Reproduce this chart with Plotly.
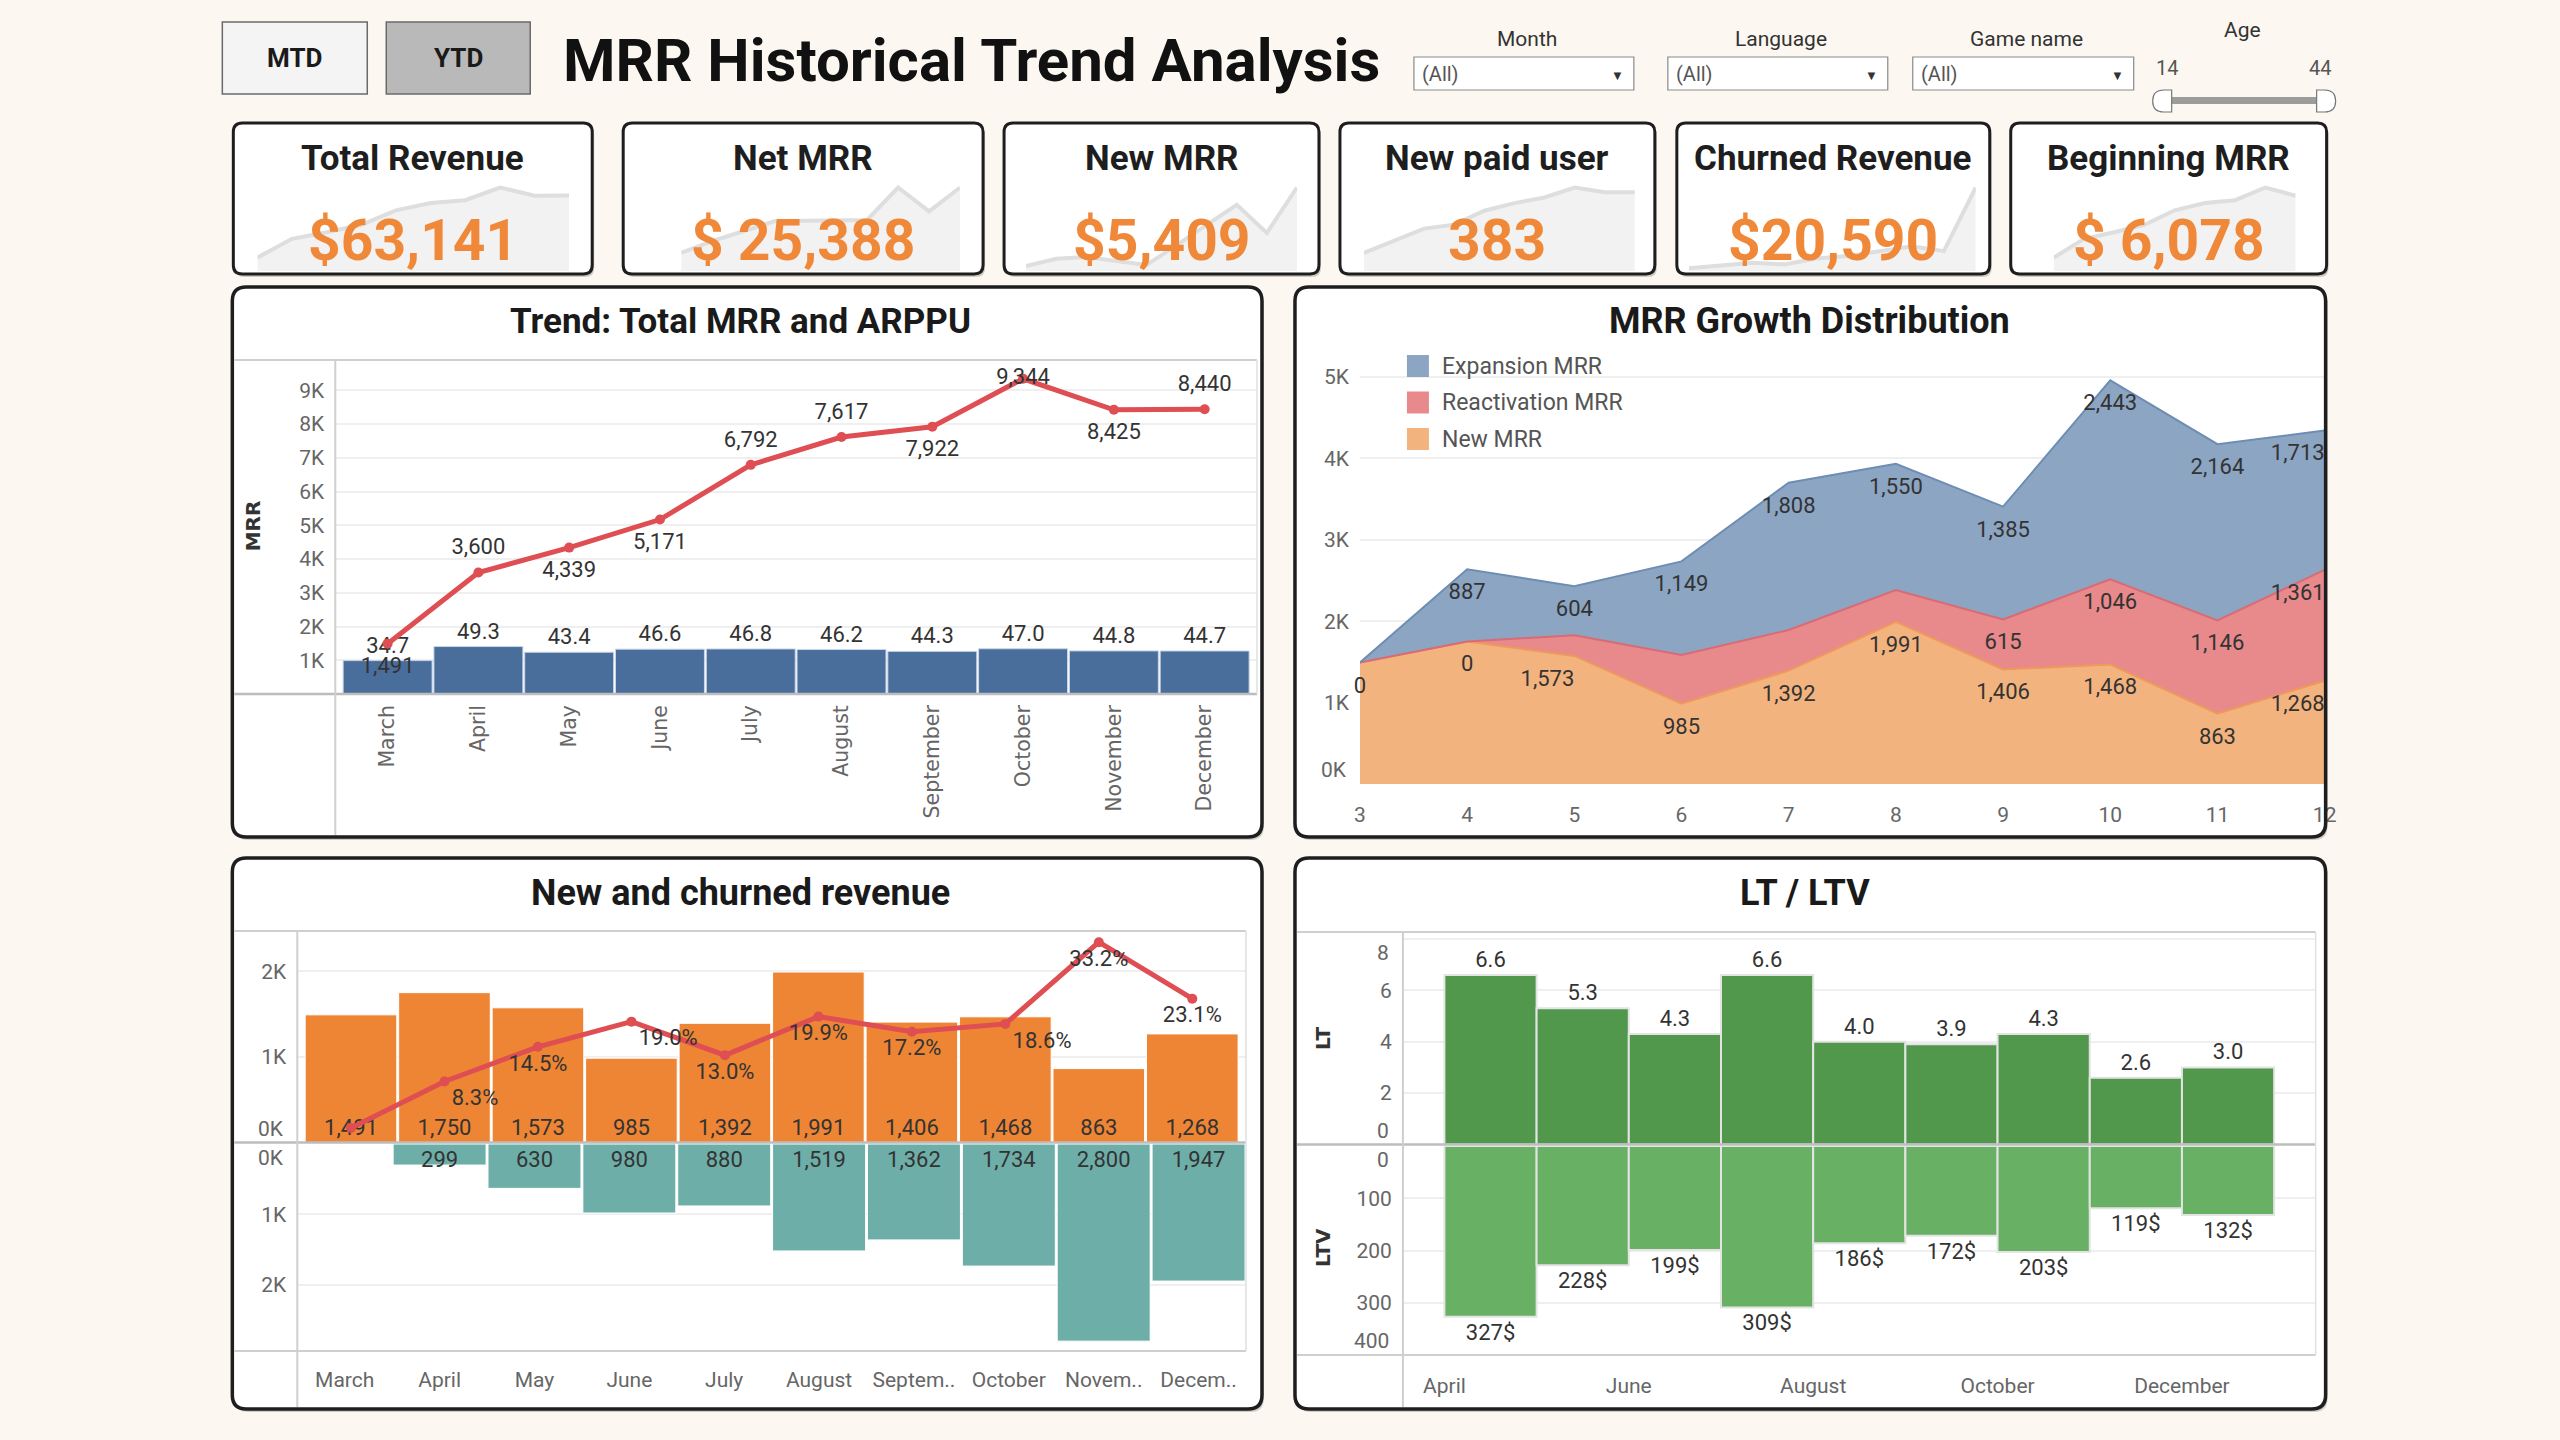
import plotly.graph_objects as go

W, H = 2560, 1440
BG = "#FCF8F1"
SANS = "Roboto, 'Open Sans', sans-serif"
WIDE = "'DejaVu Sans', Verdana, sans-serif"

# ---------------- data ----------------
months = ["March", "April", "May", "June", "July", "August",
          "September", "October", "November", "December"]
months_short = ["March", "April", "May", "June", "July", "August",
                "Septem..", "October", "Novem..", "Decem.."]
month_num = [3, 4, 5, 6, 7, 8, 9, 10, 11, 12]

total_mrr = [1491, 3600, 4339, 5171, 6792, 7617, 7922, 9344, 8425, 8440]
arppu = [34.7, 49.3, 43.4, 46.6, 46.8, 46.2, 44.3, 47.0, 44.8, 44.7]

new_mrr = [1491, 1750, 1573, 985, 1392, 1991, 1406, 1468, 863, 1268]
reactivation_mrr = [0, 0, 253, 600, 500, 392, 615, 1046, 1146, 1361]
expansion_mrr = [0, 887, 604, 1149, 1808, 1550, 1385, 2443, 2164, 1713]
new_label_on = [False, False, True, True, True, True, True, True, True, True]
react_label_on = [True, True, False, False, False, False, True, True, True, True]
exp_label_on = [False, True, True, True, True, True, True, True, True, True]

churned_revenue = [0, 299, 630, 980, 880, 1519, 1362, 1734, 2800, 1947]
churn_rate = [0.0, 8.3, 14.5, 19.0, 13.0, 19.9, 17.2, 18.6, 33.2, 23.1]

lt_months = ["April", "May", "June", "July", "August", "September",
             "October", "November", "December"]
lt_month_num = [4, 5, 6, 7, 8, 9, 10, 11, 12]
lt_values = [6.6, 5.3, 4.3, 6.6, 4.0, 3.9, 4.3, 2.6, 3.0]
ltv_values = [327, 228, 199, 309, 186, 172, 203, 119, 132]
lt_tick_months = [4, 6, 8, 10, 12]
lt_tick_labels = ["April", "June", "August", "October", "December"]

kpi_titles = ["Total Revenue", "Net MRR", "New MRR", "New paid user",
              "Churned Revenue", "Beginning MRR"]
kpi_values = ["$63,141", "$ 25,388", "$5,409", "383", "$20,590", "$ 6,078"]

spark_total_revenue = [1491, 3600, 4339, 5171, 6792, 7617, 7922, 9344, 8425, 8440]
spark_net_mrr = [55, 90, 120, 150, 152, 152, 154, 252, 180, 252]
spark_new_mrr = [15, 37, 42, 30, 18, 78, 140, 200, 115, 252]
spark_paid_users = [55, 92, 128, 140, 182, 205, 222, 252, 238, 238]
spark_churned = [8, 15, 25, 20, 38, 45, 60, 75, 60, 252]
spark_beginning_mrr = [1491, 3600, 4339, 5171, 6792, 7617, 7922, 9344, 8425]
spark_series = [spark_total_revenue, spark_net_mrr, spark_new_mrr,
                spark_paid_users, spark_churned, spark_beginning_mrr]

filter_labels = ["Month", "Language", "Game name"]
filter_values = ["(All)", "(All)", "(All)"]
age_range = [14, 44]

mrr_ticks = [1000, 2000, 3000, 4000, 5000, 6000, 7000, 8000, 9000]
growth_ticks = [0, 1000, 2000, 3000, 4000, 5000]
nc_ticks = [0, 1000, 2000]
lt_ticks = [0, 2, 4, 6, 8]
ltv_ticks = [0, 100, 200, 300, 400]

# ---------------- styles ----------------
RED = "#DE4E53"
BLUE_BAR = "#4A6E9C"
ORANGE = "#EE8534"
TEAL = "#6EAEA8"
DKGREEN = "#51984D"
LTGREEN = "#68B064"
KPI_ORANGE = "#F0883A"
GRID = "#EFEFEF"
AXLINE = "#CFCFCF"
TICK = dict(family=SANS, size=21, color="#666666")
LABEL = dict(family=SANS, size=22, color="#333333")
MRR_LABEL_GAP = 700      # label offset from the MRR line, in MRR units
AREA_LABEL_DROP = 300    # label offset below the stacked area edges, in MRR units

# the page is drawn slightly narrower than 2560 px; layout positions below are
# given in target-picture pixels and mapped through this correction
X_SHIFT, X_SCALE = 5.6, 0.9933


def fx(x):
    return (x - X_SHIFT) / X_SCALE / W


def fy(y):
    return 1 - y / H


def P(x, y):
    return f"{fx(x):.6f},{fy(y):.6f}"


def rounded(x0, y0, x1, y1, r):
    return (f"M{P(x0 + r, y0)} L{P(x1 - r, y0)} Q{P(x1, y0)} {P(x1, y0 + r)} "
            f"L{P(x1, y1 - r)} Q{P(x1, y1)} {P(x1 - r, y1)} L{P(x0 + r, y1)} "
            f"Q{P(x0, y1)} {P(x0, y1 - r)} L{P(x0, y0 + r)} Q{P(x0, y0)} {P(x0 + r, y0)} Z")


shapes = []
annotations = []


def rect(x0, y0, x1, y1, fill, line_color=None, lw=0, layer="below"):
    shapes.append(dict(type="rect", xref="paper", yref="paper",
                       x0=fx(x0), x1=fx(x1), y0=fy(y1), y1=fy(y0),
                       fillcolor=fill, layer=layer,
                       line=dict(color=line_color or fill, width=lw)))


def line(x0, y0, x1, y1, color=AXLINE, width=2, layer="above"):
    shapes.append(dict(type="line", xref="paper", yref="paper",
                       x0=fx(x0), x1=fx(x1), y0=fy(y0), y1=fy(y1),
                       line=dict(color=color, width=width), layer=layer))


def box(x0, y0, x1, y1, r, lw=3.5):
    shapes.append(dict(type="path", path=rounded(x0 + 2, y0 + 3, x1 + 2, y1 + 3, r),
                       xref="paper", yref="paper", fillcolor="rgba(0,0,0,0.18)",
                       line=dict(width=0), layer="below"))
    shapes.append(dict(type="path", path=rounded(x0, y0, x1, y1, r),
                       xref="paper", yref="paper", fillcolor="white",
                       line=dict(width=0), layer="below"))
    shapes.append(dict(type="path", path=rounded(x0, y0, x1, y1, r),
                       xref="paper", yref="paper", fillcolor="rgba(0,0,0,0)",
                       line=dict(color="#1E1E1E", width=lw), layer="above"))


def text(x, y, s, size=22, color="#333333", weight=400, family=SANS,
         xanchor="center", yanchor="middle", angle=0):
    annotations.append(dict(xref="paper", yref="paper", x=fx(x), y=fy(y), text=s,
                            showarrow=False, xanchor=xanchor, yanchor=yanchor,
                            textangle=angle,
                            font=dict(family=family, size=size, color=color, weight=weight)))


def edge_label(s, yref, yval, x_px, yanchor):
    annotations.append(dict(xref="paper", yref=yref, x=fx(x_px), y=yval, text=s,
                            showarrow=False, xanchor="right", yanchor=yanchor,
                            font=TICK))


# ---------------- header ----------------
rect(222, 22, 367, 94, "#F4F4F4", "#6A6A6A", 1.5)
rect(386, 22, 530, 94, "#B9B9B9", "#6A6A6A", 1.5)
text(294.5, 58, "MTD", 26, "#1A1A1A", 700)
text(458, 58, "YTD", 26, "#1A1A1A", 700)
text(561, 61, "MRR Historical Trend Analysis", 60, "#111111", 700, xanchor="left")

filter_boxes = [(1414, 1634), (1668, 1888), (1913, 2134)]
for (bx0, bx1), lab, val in zip(filter_boxes, filter_labels, filter_values):
    text((bx0 + bx1) / 2 + 3, 39, lab, 21, "#333333")
    rect(bx0, 57, bx1, 90, "white", "#8A8A8A", 1.2)
    text(bx0 + 6, 74, val, 20, "#555555", xanchor="left")
    text(bx1 - 16, 75, "▼", 13, "#333333")

text(2243, 30, "Age", 21, "#333333")
text(2167, 68, str(age_range[0]), 20, "#555555")
text(2320, 68, str(age_range[1]), 20, "#555555")
rect(2172, 97, 2318, 104, "#9C9C9C")
shapes.append(dict(type="path", xref="paper", yref="paper", layer="above",
                   path=f"M{P(2172, 90)} L{P(2164, 90)} Q{P(2153, 90)} {P(2153, 101)} "
                        f"Q{P(2153, 112)} {P(2164, 112)} L{P(2172, 112)} Z",
                   fillcolor="white", line=dict(color="#777777", width=1.2)))
shapes.append(dict(type="path", xref="paper", yref="paper", layer="above",
                   path=f"M{P(2317, 90)} L{P(2325, 90)} Q{P(2336, 90)} {P(2336, 101)} "
                        f"Q{P(2336, 112)} {P(2325, 112)} L{P(2317, 112)} Z",
                   fillcolor="white", line=dict(color="#777777", width=1.2)))

# ---------------- KPI cards ----------------
card_boxes = [(233, 123, 592, 274), (623, 123, 983, 274), (1004, 123, 1319, 274),
              (1340, 123, 1655, 274), (1677, 123, 1990, 274), (2011, 123, 2327, 274)]
spark_x = [(257, 569), (681, 960), (1026, 1297), (1364, 1635), (1689, 1976), (2054, 2296)]
for (cx0, cy0, cx1, cy1), t, v in zip(card_boxes, kpi_titles, kpi_values):
    box(cx0, cy0, cx1, cy1, 9, 3)
    text((cx0 + cx1) / 2, 159, t, 35, "#1E1E1E", 700)
    text((cx0 + cx1) / 2, 241, v, 57, KPI_ORANGE, 700)

# ---------------- panels ----------------
panels = [(232, 287, 1262, 837), (1295, 287, 2326, 837),
          (232, 858, 1262, 1409), (1295, 858, 2326, 1409)]
for p in panels:
    box(*p, 14, 3.5)
text(740, 321, "Trend: Total MRR and ARPPU", 35, "#1A1A1A", 700)
text(1810, 321, "MRR Growth Distribution", 36, "#1A1A1A", 700)
text(740, 893, "New and churned revenue", 36, "#1A1A1A", 700)
text(1805, 893, "LT / LTV", 36, "#1A1A1A", 700)

# trend panel lines
line(234, 360, 1257, 360)
line(234, 694, 1257, 694, "#BDBDBD", 2.5)
line(335, 360, 335, 835)
line(1257, 360, 1257, 694, "#E0E0E0", 1.5)
text(253, 526, "MRR", 20, "#333333", 700, family=WIDE, angle=-90)

# new / churned lines
line(234, 931, 1246, 931)
line(234, 1142.5, 1246, 1142.5, "#BDBDBD", 2.5)
line(234, 1351, 1246, 1351)
line(297, 931, 297, 1407)
line(1246, 931, 1246, 1351, "#E0E0E0", 1.5)

# LT / LTV lines
line(1297, 932, 2316, 932)
line(1297, 1144.5, 2316, 1144.5, "#BDBDBD", 2.5)
line(1297, 1355, 2316, 1355)
line(1403, 932, 1403, 1407)
line(2316, 932, 2316, 1355, "#E0E0E0", 1.5)
text(1323, 1038, "LT", 20, "#333333", 700, family=WIDE, angle=-90)
text(1323, 1247, "LTV", 20, "#333333", 700, family=WIDE, angle=-90)

# growth legend
legend_items = [("Expansion MRR", "#8CA5C3"), ("Reactivation MRR", "#E8898C"),
                ("New MRR", "#F3B37F")]
for i, (name, col) in enumerate(legend_items):
    yc = 366 + i * 36.5
    rect(1407, yc - 11, 1429, yc + 11, col, layer="above")
    text(1440, yc, name, 23, "#555555", xanchor="left")

# ---------------- traces ----------------
fig = go.Figure()

trend_label_side = [-1, 1, -1, -1, 1, 1, -1, 0, -1, 1]
fig.add_trace(go.Bar(x=months, y=arppu, xaxis="x", yaxis="y",
                     marker=dict(color=BLUE_BAR, line=dict(color="#C9D6E6", width=1)),
                     text=[f"{v:.1f}" for v in arppu], textposition="outside",
                     textfont=LABEL, cliponaxis=False, hoverinfo="skip"))
fig.add_trace(go.Scatter(x=months, y=total_mrr, xaxis="x", yaxis="y2",
                         mode="lines+markers",
                         line=dict(color=RED, width=5), marker=dict(size=10, color=RED),
                         hoverinfo="skip"))
fig.add_trace(go.Scatter(x=months,
                         y=[v + s * MRR_LABEL_GAP for v, s in zip(total_mrr, trend_label_side)],
                         xaxis="x", yaxis="y2", mode="text",
                         text=[f"{v:,}" for v in total_mrr], textposition="middle center",
                         textfont=LABEL, cliponaxis=False, hoverinfo="skip"))

# growth distribution (stacked areas)
fig.add_trace(go.Scatter(x=month_num, y=new_mrr, xaxis="x2", yaxis="y3",
                         stackgroup="g", mode="lines", name="New MRR",
                         line=dict(color="#EE9A5B", width=2), fillcolor="#F3B37F"))
fig.add_trace(go.Scatter(x=month_num, y=reactivation_mrr, xaxis="x2", yaxis="y3",
                         stackgroup="g", mode="lines", name="Reactivation MRR",
                         line=dict(color="#D96B74", width=2), fillcolor="#E8898C"))
fig.add_trace(go.Scatter(x=month_num, y=expansion_mrr, xaxis="x2", yaxis="y3",
                         stackgroup="g", mode="lines", name="Expansion MRR",
                         line=dict(color="#6E8DB3", width=2), fillcolor="#8CA5C3"))
cum_new = list(new_mrr)
cum_react = [a + b for a, b in zip(cum_new, reactivation_mrr)]
cum_exp = [a + b for a, b in zip(cum_react, expansion_mrr)]
edge_pos = ["middle center"] * 9 + ["middle left"]
new_pos = ["middle center", "middle center", "middle left"] + ["middle center"] * 6 + ["middle left"]
for yv, vals, on, pos in [(cum_new, new_mrr, new_label_on, new_pos),
                          (cum_react, reactivation_mrr, react_label_on, edge_pos),
                          (cum_exp, expansion_mrr, exp_label_on, edge_pos)]:
    fig.add_trace(go.Scatter(x=month_num, y=[c - AREA_LABEL_DROP for c in yv],
                             xaxis="x2", yaxis="y3", mode="text",
                             text=[f"{v:,}" if o else "" for v, o in zip(vals, on)],
                             textposition=pos, textfont=LABEL,
                             cliponaxis=False, hoverinfo="skip"))

# new and churned revenue
pct_label_pos = ["bottom center", "bottom right", "bottom center", "bottom right",
                 "bottom center", "bottom center", "bottom center", "bottom right",
                 "bottom center", "bottom center"]
fig.add_trace(go.Bar(x=months, y=new_mrr, xaxis="x3", yaxis="y4",
                     marker=dict(color=ORANGE, line=dict(color="white", width=1)),
                     text=[f"{v:,}" for v in new_mrr], textposition="inside",
                     insidetextanchor="start", textangle=0, constraintext="none",
                     textfont=LABEL, cliponaxis=False))
fig.add_trace(go.Scatter(x=months, y=churn_rate, xaxis="x3", yaxis="y5",
                         mode="lines+markers+text",
                         line=dict(color=RED, width=5), marker=dict(size=10, color=RED),
                         text=[f"{v:.1f}%" if v > 0 else "" for v in churn_rate],
                         textposition=pct_label_pos, textfont=LABEL, cliponaxis=False))
fig.add_trace(go.Bar(x=months, y=churned_revenue, xaxis="x4", yaxis="y6",
                     marker=dict(color=TEAL, line=dict(color="white", width=1)),
                     text=[f"{v:,}" if v else "" for v in churned_revenue],
                     textposition="inside", insidetextanchor="start", textangle=0,
                     constraintext="none", textfont=LABEL, cliponaxis=False))

# LT / LTV
fig.add_trace(go.Bar(x=lt_month_num, y=lt_values, width=1, offset=0,
                     xaxis="x5", yaxis="y7",
                     marker=dict(color=DKGREEN, line=dict(color="#E4E4E4", width=2)),
                     text=[f"{v:.1f}" for v in lt_values], textposition="outside",
                     textfont=LABEL, cliponaxis=False))
fig.add_trace(go.Bar(x=lt_month_num, y=ltv_values, width=1, offset=0,
                     xaxis="x6", yaxis="y8",
                     marker=dict(color=LTGREEN, line=dict(color="#E4E4E4", width=2)),
                     text=[f"{v}$" for v in ltv_values], textposition="outside",
                     textfont=LABEL, cliponaxis=False))

# sparklines
for i, vals in enumerate(spark_series):
    fig.add_trace(go.Scatter(x=list(range(len(vals))), y=vals,
                             xaxis=f"x{7 + i}", yaxis=f"y{9 + i}", mode="lines",
                             fill="tozeroy", fillcolor="#F2F2F2",
                             line=dict(color="#DEDEDE", width=4), hoverinfo="skip"))

# ---------------- axes ----------------
def k_text(vals):
    return [f"{v // 1000}K" for v in vals]


def hide_edges(labels, keep):
    return [l if k else "" for l, k in zip(labels, keep)]


common_x = dict(showgrid=False, zeroline=False, showline=False, ticks="", fixedrange=True)
common_y = dict(zeroline=False, showline=False, ticks="", gridcolor=GRID, gridwidth=1.5,
                tickfont=TICK, ticklabelstandoff=10, fixedrange=True)

layout = dict(
    xaxis=dict(domain=[fx(335), fx(1257)], anchor="y", type="category", tickangle=-90,
               tickfont=dict(family=WIDE, size=20.5, color="#666666"),
               ticklabelstandoff=6, **common_x),
    yaxis=dict(domain=[fy(694), fy(360)], anchor="x", range=[0, 347], visible=False),
    yaxis2=dict(overlaying="y", anchor="x", side="left", range=[0, 9900],
                tickvals=mrr_ticks, ticktext=k_text(mrr_ticks), showgrid=True, **common_y),

    xaxis2=dict(domain=[fx(1360), fx(2325)], anchor="y3", range=[3, 12],
                tickvals=month_num, tickfont=TICK, ticklabelstandoff=16, **common_x),
    yaxis3=dict(domain=[fy(784), fy(350)], anchor="x2", range=[0, 5330],
                tickvals=growth_ticks,
                ticktext=hide_edges(k_text(growth_ticks), [v > 0 for v in growth_ticks]),
                **common_y),

    xaxis3=dict(domain=[fx(297), fx(1246)], anchor="y4", type="category",
                showticklabels=False, **common_x),
    yaxis4=dict(domain=[fy(1142.5), fy(931)], anchor="x3", range=[0, 2470],
                tickvals=nc_ticks,
                ticktext=hide_edges(k_text(nc_ticks), [v > 0 for v in nc_ticks]),
                **common_y),
    yaxis5=dict(overlaying="y4", anchor="x3", range=[-2.6, 35.2], visible=False),
    xaxis4=dict(domain=[fx(297), fx(1246)], anchor="y6", type="category",
                tickvals=months, ticktext=months_short,
                tickfont=TICK, ticklabelstandoff=14, **common_x),
    yaxis6=dict(domain=[fy(1351), fy(1144)], anchor="x4", range=[2940, 0],
                tickvals=nc_ticks,
                ticktext=hide_edges(k_text(nc_ticks), [v > 0 for v in nc_ticks]),
                **common_y),

    xaxis5=dict(domain=[fx(1403), fx(2316)], anchor="y7", range=[3.55, 13.45],
                showticklabels=False, **common_x),
    yaxis7=dict(domain=[fy(1144.5), fy(932)], anchor="x5", range=[0, 8.27],
                tickvals=lt_ticks,
                ticktext=hide_edges([str(v) for v in lt_ticks],
                                    [0 < v < 8 for v in lt_ticks]), **common_y),
    xaxis6=dict(domain=[fx(1403), fx(2316)], anchor="y8", range=[3.55, 13.45],
                tickvals=lt_tick_months, ticktext=lt_tick_labels,
                tickfont=TICK, ticklabelstandoff=16, **common_x),
    yaxis8=dict(domain=[fy(1355), fy(1146)], anchor="x6", range=[400, 0],
                tickvals=ltv_ticks,
                ticktext=hide_edges([str(v) for v in ltv_ticks],
                                    [0 < v < 400 for v in ltv_ticks]), **common_y),
)

for i, vals in enumerate(spark_series):
    sx0, sx1 = spark_x[i]
    layout[f"xaxis{7 + i}"] = dict(domain=[fx(sx0), fx(sx1)], anchor=f"y{9 + i}",
                                   range=[0, len(vals) - 1], visible=False, fixedrange=True)
    layout[f"yaxis{9 + i}"] = dict(domain=[fy(271), fy(185)], anchor=f"x{7 + i}",
                                   range=[0, max(vals) * 1.03], visible=False,
                                   fixedrange=True)

# edge tick labels nudged inside the panes (as in the reference)
edge_label("0K", "y3", 0, 1349, "bottom")
edge_label("0K", "y4", 0, 286, "bottom")
edge_label("0K", "y6", 0, 286, "top")
edge_label(str(lt_ticks[-1]), "y7", lt_ticks[-1], 1391, "top")
edge_label(str(lt_ticks[0]), "y7", lt_ticks[0], 1391, "bottom")
edge_label(str(ltv_ticks[0]), "y8", ltv_ticks[0], 1391, "top")
edge_label(str(ltv_ticks[-1]), "y8", ltv_ticks[-1], 1391, "bottom")

fig.update_layout(**layout)
fig.update_layout(shapes=shapes, annotations=annotations,
                  width=W, height=H, autosize=False, margin=dict(l=0, r=0, t=0, b=0),
                  paper_bgcolor=BG, plot_bgcolor="rgba(0,0,0,0)",
                  showlegend=False, bargap=0.02, font=dict(family=SANS))

fig.write_html("out.html", config={"displayModeBar": False, "responsive": False})
